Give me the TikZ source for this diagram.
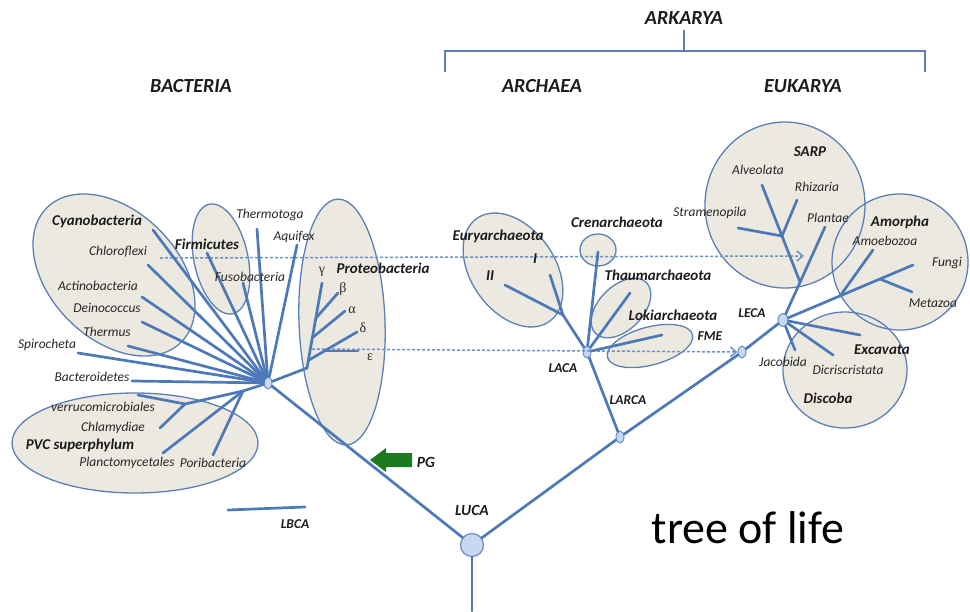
\documentclass[tikz,border=0pt]{standalone}
\usepackage{fontspec}
\setmainfont{Carlito}
\newfontfamily\grk{Liberation Serif}
\usetikzlibrary{shapes.geometric,arrows.meta}
\definecolor{brc}{RGB}{78,121,184}
\definecolor{elf}{RGB}{236,233,224}
\definecolor{eld}{RGB}{92,128,182}
\definecolor{nfc}{RGB}{200,216,240}
\definecolor{ndc}{RGB}{105,142,198}
\definecolor{dshc}{RGB}{110,146,200}
\definecolor{pgg}{RGB}{28,122,32}
\definecolor{txc}{RGB}{40,40,40}
\tikzset{
  br/.style={draw=brc, line width=2.7pt, line cap=round},
  lab/.style={font=\fontsize{13.5}{15}\selectfont\itshape, text=txc, inner sep=0pt},
  blab/.style={font=\fontsize{15}{17}\selectfont\bfseries\itshape, text=txc!70!black, inner sep=0pt},
  slab/.style={font=\fontsize{13.5}{15}\selectfont\bfseries\itshape, text=txc!70!black, inner sep=0pt},
  hdr/.style={font=\fontsize{20}{22}\selectfont\bfseries\itshape, text=txc!70!black, inner sep=0pt},
  gk/.style={font=\grk\fontsize{14}{15}\selectfont, text=txc, inner sep=0pt},
  bnode/.style={ellipse, draw=ndc, fill=nfc, line width=1pt, minimum width=8pt, minimum height=12pt, inner sep=0pt},
  lucanode/.style={circle, draw=ndc, fill=nfc, line width=1.2pt, minimum size=23pt, inner sep=0pt},
  dsh/.style={draw=dshc, dash pattern=on 3pt off 2pt, line width=1.5pt},
  brk/.style={draw=eld, line width=1.3pt}
}
\begin{document}
\begin{tikzpicture}[x=1pt,y=-1pt]
\useasboundingbox (0,0) rectangle (970,611);

% clade regions
\foreach \cx/\cy/\rx/\ry/\ang in {114/275/95/64/-45, 221/259/27/56/12, 342/322/43/123/2, 135/443/123/50/0, 513/270/42/63/35, 598/250/18/16/0, 621/308/36/22/45, 650/346/44/19/15, 785/205/80/83/0, 900/262/68/68/0, 845/370/62/58/0}
  \fill[elf, rotate around={\ang:(\cx,\cy)}] (\cx,\cy) ellipse [x radius=\rx, y radius=\ry];
\foreach \cx/\cy/\rx/\ry/\ang in {114/275/95/64/-45, 221/259/27/56/12, 342/322/43/123/2, 135/443/123/50/0, 513/270/42/63/35, 598/250/18/16/0, 621/308/36/22/45, 650/346/44/19/15, 785/205/80/83/0, 900/262/68/68/0, 845/370/62/58/0}
  \draw[eld, line width=1.3pt, rotate around={\ang:(\cx,\cy)}] (\cx,\cy) ellipse [x radius=\rx, y radius=\ry];

% headers and bracket
\node[hdr] (ark) at (684,18) {ARKARYA};
\node[hdr] (bac) at (191,86) {BACTERIA};
\node[hdr] (arc) at (542,86) {ARCHAEA};
\node[hdr] (euk) at (803,86) {EUKARYA};
\coordinate (bt) at (684,30);
\coordinate (bm) at (684,51);
\coordinate (bl0) at (445,51);
\coordinate (bl1) at (445,72);
\coordinate (br0) at (925,51);
\coordinate (br1) at (925,72);
\draw[brk] (bl1) -- (bl0) -- (br0) -- (br1);
\draw[brk] (bt) -- (bm);

% internal nodes
\node[lucanode] (luca) at (472,545) {};
\node[bnode] (hb) at (268,383) {};
\node[bnode] (larca) at (620,437) {};
\node[bnode] (fmen) at (742,352) {};
\node[bnode] (laca) at (587,352) {};
\node[bnode, minimum width=10pt, minimum height=13pt] (leca) at (783,320) {};
\coordinate (root) at (472,611);

% dashed transfer lines
\coordinate (d1a) at (160,258);
\coordinate (d1b) at (804,256);
\coordinate (d2a) at (312,349);
\draw[dsh, -{Straight Barb[length=6pt,width=10pt,line width=1.5pt]}] (d1a) -- (d1b);
\draw[dsh, -{Straight Barb[length=6pt,width=10pt,line width=1.5pt]}] (d2a) -- (fmen.west);

% trunk
\draw[br] (luca) -- (root);
\draw[br] (luca) -- (hb);
\draw[br] (luca) -- (larca);
\draw[br] (larca) -- (fmen);
\draw[br] (fmen) -- (leca);
\draw[br] (larca) -- (laca);

% bacteria tips
\coordinate (cyT) at (153,230);
\coordinate (chT) at (148,265);
\coordinate (acT) at (142,297);
\coordinate (deT) at (142,322);
\coordinate (thT) at (128,346);
\coordinate (spT) at (78,353);
\coordinate (bcT) at (132,381);
\coordinate (fiT) at (207,253);
\coordinate (fuT) at (243,283);
\coordinate (tgT) at (257,229);
\coordinate (aqT) at (297,245);
\foreach \t in {cyT,chT,acT,deT,thT,spT,bcT,fiT,fuT,tgT,aqT}
  \draw[br] (hb) -- (\t);

% proteobacteria
\coordinate (p0) at (307,368);
\coordinate (gT) at (322,283);
\coordinate (bJ) at (316,318);
\coordinate (bT) at (338,293);
\coordinate (aJ) at (312,338);
\coordinate (aT) at (345,311);
\coordinate (dJ) at (309,360);
\coordinate (dT) at (357,332);
\coordinate (eJ) at (325,351);
\coordinate (eT) at (358,351);
\draw[br] (hb) -- (p0) -- (gT);
\draw[br] (bJ) -- (bT);
\draw[br] (aJ) -- (aT);
\draw[br] (dJ) -- (dT);
\draw[br] (eJ) -- (eT);

% PVC
\coordinate (pR) at (243,391);
\coordinate (pV) at (185,404);
\coordinate (poT) at (213,455);
\coordinate (plT) at (163,453);
\coordinate (veT) at (138,395);
\coordinate (clT) at (160,428);
\draw[br] (hb) -- (pR);
\draw[br] (pR) -- (poT);
\draw[br] (pR) -- (plT);
\draw[br] (pR) -- (pV);
\draw[br] (pV) -- (veT);
\draw[br] (pV) -- (clT);

% LBCA
\coordinate (lb1) at (228,510);
\coordinate (lb2) at (305,507);
\draw[br] (lb1) -- (lb2);

% archaea
\coordinate (crT) at (598,252);
\coordinate (thaT) at (630,293);
\coordinate (loT) at (662,335);
\coordinate (eu0) at (563,315);
\coordinate (iT) at (550,275);
\coordinate (iiT) at (505,285);
\draw[br] (laca) -- (crT);
\draw[br] (laca) -- (thaT);
\draw[br] (laca) -- (loT);
\draw[br] (laca) -- (eu0);
\draw[br] (eu0) -- (iT);
\draw[br] (eu0) -- (iiT);

% eukarya
\coordinate (plnT) at (825,227);
\coordinate (s0) at (800,282);
\coordinate (alT) at (762,185);
\coordinate (s1) at (782,236);
\coordinate (stT) at (738,228);
\coordinate (rhT) at (797,200);
\coordinate (fgT) at (913,265);
\coordinate (m1) at (840,296);
\coordinate (amT) at (873,250);
\coordinate (m2) at (880,279);
\coordinate (mzT) at (912,292);
\coordinate (exT) at (860,335);
\coordinate (diT) at (833,355);
\coordinate (jaT) at (795,350);
\draw[br] (leca) -- (plnT);
\draw[br] (s0) -- (alT);
\draw[br] (s1) -- (stT);
\draw[br] (s1) -- (rhT);
\draw[br] (leca) -- (fgT);
\draw[br] (m1) -- (amT);
\draw[br] (m2) -- (mzT);
\draw[br] (leca) -- (exT);
\draw[br] (leca) -- (diT);
\draw[br] (leca) -- (jaT);

% PG arrow
\fill[pgg] (370,460) -- (386,448) -- (386,453) -- (412,453) -- (412,467) -- (386,467) -- (386,472) -- cycle;

% bacteria labels
\node[blab] (lcy) at (97,221) {Cyanobacteria};
\node[lab] (lch) at (118,252) {Chloroflexi};
\node[lab] (lac) at (98,286) {Actinobacteria};
\node[lab] (lde) at (107,308) {Deinococcus};
\node[lab] (lth) at (107,332) {Thermus};
\node[lab] (lsp) at (47,345) {Spirocheta};
\node[lab] (lbc) at (92,377) {Bacteroidetes};
\node[blab] (lfi) at (207,244) {Firmicutes};
\node[lab] (lfu) at (250,277) {Fusobacteria};
\node[lab] (ltg) at (270,215) {Thermotoga};
\node[lab] (laq) at (294,237) {Aquifex};
\node[blab] (lpr) at (383,268) {Proteobacteria};
\node[gk] (lg) at (322,272) {γ};
\node[gk] (lb) at (343,289) {β};
\node[gk] (la) at (352,310) {α};
\node[gk] (ld) at (363,328) {δ};
\node[gk] (le) at (370,357) {ε};
\node[lab] (lve) at (103,407) {verrucomicrobiales};
\node[lab] (lcl) at (113,428) {Chlamydiae};
\node[blab] (lpvc) at (80,445) {PVC superphylum};
\node[lab] (lpl) at (127,463) {Planctomycetales};
\node[lab] (lpo) at (213,463) {Poribacteria};
\node[slab] (llb) at (295,524) {LBCA};
\node[slab, font=\fontsize{15.5}{17}\selectfont\bfseries\itshape] (lpg) at (426,462) {PG};
\node[slab, font=\fontsize{15.5}{17}\selectfont\bfseries\itshape] (llu) at (472,510) {LUCA};

% archaea labels
\node[blab] (leu) at (498,236) {Euryarchaeota};
\node[blab] (li) at (535,259) {I};
\node[blab] (lii) at (490,276) {II};
\node[blab] (lcr) at (617,222) {Crenarchaeota};
\node[blab] (ltha) at (658,275) {Thaumarchaeota};
\node[blab] (llo) at (673,315) {Lokiarchaeota};
\node[slab] (lfme) at (710,336) {FME};
\node[slab] (llaca) at (563,368) {LACA};
\node[slab] (llarca) at (628,400) {LARCA};
\node[slab] (lleca) at (752,313) {LECA};

% eukarya labels
\node[blab] (lsarp) at (810,152) {SARP};
\node[lab] (lal) at (758,170) {Alveolata};
\node[lab] (lrh) at (817,187) {Rhizaria};
\node[lab] (lst) at (710,213) {Stramenopila};
\node[lab] (lpla) at (828,218) {Plantae};
\node[blab] (lamo) at (900,222) {Amorpha};
\node[lab] (lamb) at (885,241) {Amoebozoa};
\node[lab] (lfg) at (947,263) {Fungi};
\node[lab] (lmz) at (933,303) {Metazoa};
\node[lab] (lja) at (783,362) {Jacobida};
\node[lab] (ldi) at (848,370) {Dicriscristata};
\node[blab] (lex) at (882,350) {Excavata};
\node[blab] (ldis) at (828,398) {Discoba};

% title
\node[font=\fontsize{46}{50}\selectfont, inner sep=0pt] (tol) at (748,528) {tree of life};
\end{tikzpicture}
\end{document}
